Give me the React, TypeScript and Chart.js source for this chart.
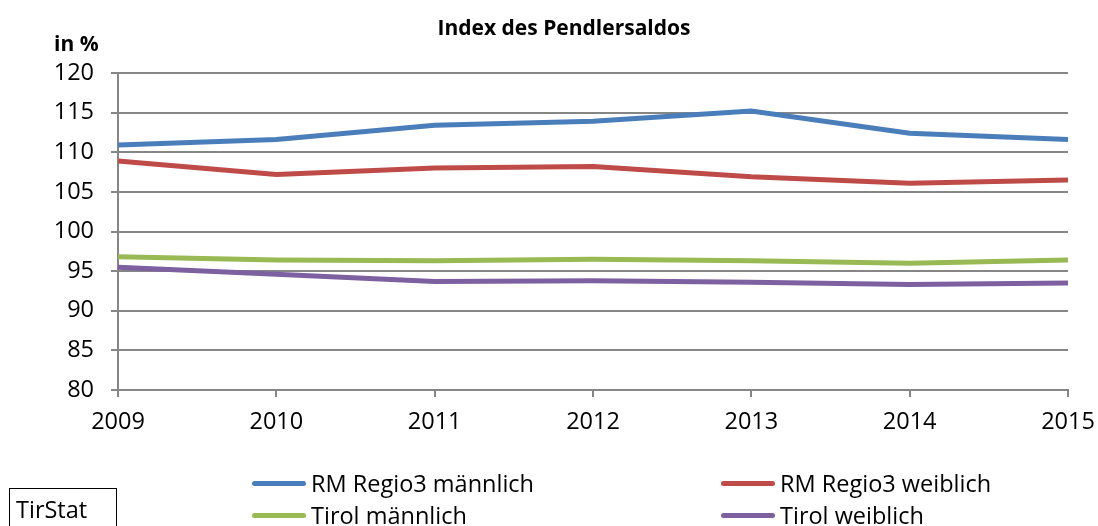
import React, { useEffect, useRef } from "react";
import { Chart, registerables } from "chart.js";

Chart.register(...registerables);

const years = ["2009", "2010", "2011", "2012", "2013", "2014", "2015"];
const regioMaennlich = [110.9, 111.6, 113.4, 113.9, 115.2, 112.4, 111.6];
const regioWeiblich = [108.9, 107.2, 108.0, 108.2, 106.9, 106.1, 106.5];
const tirolMaennlich = [96.8, 96.4, 96.3, 96.5, 96.3, 96.0, 96.4];
const tirolWeiblich = [95.5, 94.6, 93.7, 93.8, 93.6, 93.3, 93.5];

const seriesNames = ["RM Regio3 männlich", "RM Regio3 weiblich", "Tirol männlich", "Tirol weiblich"];
const seriesColors = ["#4a7ebb", "#be4b48", "#98b954", "#7d60a0"];

const FONT = "'Open Sans', sans-serif";

export default function App() {
  const ref = useRef<HTMLCanvasElement>(null);

  useEffect(() => {
    const data = [regioMaennlich, regioWeiblich, tirolMaennlich, tirolWeiblich];
    const chart = new Chart(ref.current!, {
      type: "line",
      data: {
        labels: years,
        datasets: data.map((d, i) => ({
          label: seriesNames[i],
          data: d,
          borderColor: seriesColors[i],
          backgroundColor: seriesColors[i],
          borderWidth: 5,
          pointRadius: 0,
          tension: 0,
          fill: false,
        })),
      },
      options: {
        animation: false,
        responsive: false,
        events: [],
        layout: { padding: { left: 0, right: 30, top: 73, bottom: 86 } },
        plugins: {
          legend: { display: false },
          title: { display: false },
          tooltip: { enabled: false },
        },
        scales: {
          x: {
            offset: false,
            grid: {
              display: true,
              drawOnChartArea: false,
              drawTicks: true,
              tickLength: 7,
              color: "#868686",
              lineWidth: 2,
            },
            border: { display: true, color: "#868686", width: 2 },
            ticks: {
              color: "#000",
              font: { family: FONT, size: 23.5 },
              padding: 11,
              maxRotation: 0,
              autoSkip: false,
            },
            afterFit: (s: any) => {
              s.height = 50;
              s.paddingLeft = 0;
              s.paddingRight = 0;
            },
          },
          y: {
            min: 80,
            max: 120,
            ticks: {
              stepSize: 5,
              color: "#000",
              font: { family: FONT, size: 23.5 },
              padding: 17,
            },
            grid: {
              color: "#868686",
              lineWidth: 2,
              drawTicks: true,
              tickLength: 7,
            },
            border: { display: true, color: "#868686", width: 2 },
            afterFit: (s: any) => {
              s.width = 118;
              s.paddingTop = 0;
              s.paddingBottom = 0;
            },
          },
        },
      },
    });
    return () => chart.destroy();
  }, []);

  const legendItem = (i: number, left: number, top: number) => (
    <div
      key={i}
      style={{
        position: "absolute",
        left,
        top,
        display: "flex",
        alignItems: "center",
        whiteSpace: "nowrap",
        fontFamily: FONT,
        fontSize: 23.5,
        color: "#000",
        height: 30,
      }}
    >
      <span
        style={{
          display: "inline-block",
          width: 54,
          height: 5,
          borderRadius: 3,
          background: seriesColors[i],
          marginRight: 5,
        }}
      />
      {seriesNames[i]}
    </div>
  );

  return (
    <div
      style={{
        position: "fixed",
        left: 0,
        top: 0,
        width: 1098,
        height: 526,
        background: "#fff",
        overflow: "hidden",
      }}
    >
      <canvas ref={ref} width={1098} height={526} style={{ position: "absolute", left: 0, top: 0 }} />
      <div
        style={{
          position: "absolute",
          left: 0,
          width: 1128,
          top: 13,
          textAlign: "center",
          fontFamily: FONT,
          fontWeight: "bold",
          fontSize: 21,
          color: "#000",
        }}
      >
        Index des Pendlersaldos
      </div>
      <div
        style={{
          position: "absolute",
          left: 54,
          top: 29,
          fontFamily: FONT,
          fontWeight: "bold",
          fontSize: 21,
          color: "#000",
        }}
      >
        in %
      </div>
      {legendItem(0, 252, 468)}
      {legendItem(1, 721, 468)}
      {legendItem(2, 252, 500)}
      {legendItem(3, 721, 500)}
      <div
        style={{
          position: "absolute",
          left: 9,
          top: 488,
          width: 108,
          height: 50,
          border: "1px solid #000",
          fontFamily: FONT,
          fontSize: 23.5,
          color: "#000",
          paddingLeft: 6,
          paddingTop: 5,
          boxSizing: "border-box",
          lineHeight: "30px",
        }}
      >
        TirStat
      </div>
    </div>
  );
}
